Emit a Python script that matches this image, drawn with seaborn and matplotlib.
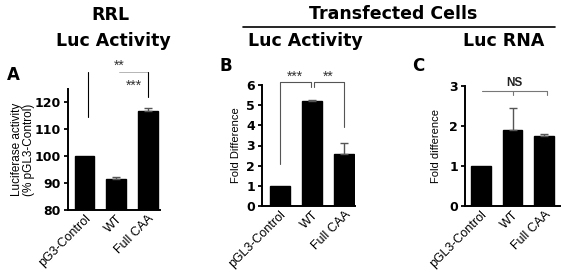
import numpy as np
import pandas as pd
import matplotlib
matplotlib.use("Agg")
import matplotlib.pyplot as plt
import seaborn as sns

sns.set_style("ticks")
plt.rcParams["font.family"] = ["Liberation Sans", "DejaVu Sans"]
plt.rcParams["text.color"] = "black"
plt.rcParams["axes.labelcolor"] = "black"
plt.rcParams["xtick.color"] = "black"
plt.rcParams["ytick.color"] = "black"
plt.rcParams["axes.edgecolor"] = "black"

# data
cats_a = ["pG3-Control", "WT", "Full CAA"]
vals_a = [100.0, 91.5, 117.0]
errs_a = [0.0, 0.6, 1.0]

cats_b = ["pGL3-Control", "WT", "Full CAA"]
vals_b = [1.0, 5.2, 2.6]
errs_b = [0.0, 0.07, 0.5]

cats_c = ["pGL3-Control", "WT", "Full CAA"]
vals_c = [1.0, 1.9, 1.75]
errs_c = [0.0, 0.55, 0.05]

W, H = 563, 276
fig = plt.figure(figsize=(W / 100, H / 100), dpi=100)


def px(x0, y0, x1, y1):
    # pixel box -> figure fraction [l, b, w, h]
    return [x0 / W, 1 - y1 / H, (x1 - x0) / W, (y1 - y0) / H]


def bars(ax, cats, vals, errs, ylim, yticks, xlim):
    df = pd.DataFrame({"cat": cats, "val": vals})
    sns.barplot(data=df, x="cat", y="val", color="black", width=0.62,
                saturation=1, ax=ax, errorbar=None, edgecolor="black")
    idx = [i for i, e in enumerate(errs) if e > 0]
    ax.errorbar(idx, [vals[i] for i in idx],
                yerr=[np.zeros(len(idx)), [errs[i] for i in idx]],
                fmt="none", ecolor="#555555", elinewidth=1, capsize=3, capthick=1)
    ax.set_ylim(*ylim)
    ax.set_yticks(yticks)
    ax.set_xlim(*xlim)
    ax.set_xlabel("")
    sns.despine(ax=ax)
    ax.spines["left"].set_linewidth(1.4)
    ax.spines["bottom"].set_linewidth(1.4)
    ax.tick_params(axis="y", labelsize=9.5, width=1.3, length=3, pad=2)
    ax.tick_params(axis="x", length=0, labelsize=9, pad=2)
    for t in ax.get_yticklabels():
        t.set_fontweight("bold")
        t.set_family(["DejaVu Sans"])
        t.set_fontsize(9)
    plt.setp(ax.get_xticklabels(), rotation=45, ha="right",
             rotation_mode="anchor")


star = dict(ha="center", va="bottom", fontsize=10, color="#333333")

# panel A
axa = fig.add_axes(px(68, 89, 160, 210))
bars(axa, cats_a, vals_a, errs_a, (80, 125), [80, 90, 100, 110, 120], (-0.52, 2.38))
axa.set_ylabel("Luciferase activity\n(% pGL3-Control)", fontsize=8.5, labelpad=0,
               linespacing=1.0)
axa.plot([0.1, 0.1], [114.5, 131.5], color="black", lw=0.8, clip_on=False)
axa.plot([1.1, 2.0], [131.5, 131.5], color="#aaaaaa", lw=0.6, clip_on=False)
axa.plot([2.0, 2.0], [131.5, 122.0], color="black", lw=0.8, clip_on=False)
axa.text(1.1, 131.0, "**", **star)
axa.text(1.55, 123.5, "***", **star)

# panel B
axb = fig.add_axes(px(262, 85, 355, 206))
bars(axb, cats_b, vals_b, errs_b, (0, 6), range(0, 7), (-0.56, 2.33))
axb.set_ylabel("Fold Difference", fontsize=8, labelpad=4)
axb.plot([0, 0, 0.95, 0.95], [2.1, 6.15, 6.15, 5.9], color="#555555", lw=0.8,
         clip_on=False)
axb.plot([1.05, 1.05, 2.0, 2.0], [5.9, 6.15, 6.15, 3.9], color="#555555", lw=0.8,
         clip_on=False)
axb.text(0.45, 6.05, "***", **star)
axb.text(1.5, 6.05, "**", **star)

# panel C
axc = fig.add_axes(px(465, 86, 560, 206))
bars(axc, cats_c, vals_c, errs_c, (0, 3), [0, 1, 2, 3], (-0.5, 2.5))
axc.set_ylabel("Fold difference", fontsize=8, labelpad=6)
axc.plot([0.05, 2.1], [2.87, 2.87], color="#777777", lw=0.8, clip_on=False)
axc.plot([1.0, 1.0], [2.87, 2.78], color="#777777", lw=0.8, clip_on=False)
axc.plot([2.1, 2.1], [2.87, 2.78], color="#777777", lw=0.8, clip_on=False)
axc.text(1.05, 2.93, "NS", ha="center", va="bottom", fontsize=8.5,
         fontweight="bold", color="#222222")

# headers
big = dict(fontsize=12.5, fontweight="bold", ha="center", va="center",
           family=["DejaVu Sans"])
fig.text(110 / W, 1 - 15 / H, "RRL", **big)
fig.text(113 / W, 1 - 41 / H, "Luc Activity", **big)
fig.text(393 / W, 1 - 14 / H, "Transfected Cells", **big)
fig.text(305 / W, 1 - 41 / H, "Luc Activity", **big)
fig.text(504 / W, 1 - 41 / H, "Luc RNA", **big)
fig.add_artist(plt.Line2D([243 / W, 555 / W], [1 - 27 / H, 1 - 27 / H],
                          color="black", lw=1.2))

lab = dict(fontsize=12, fontweight="bold", ha="center", va="center",
           family=["DejaVu Sans"])
fig.text(13 / W, 1 - 75 / H, "A", **lab)
fig.text(226 / W, 1 - 66 / H, "B", **lab)
fig.text(418 / W, 1 - 66 / H, "C", **lab)

fig.savefig("out.png", dpi=100)
